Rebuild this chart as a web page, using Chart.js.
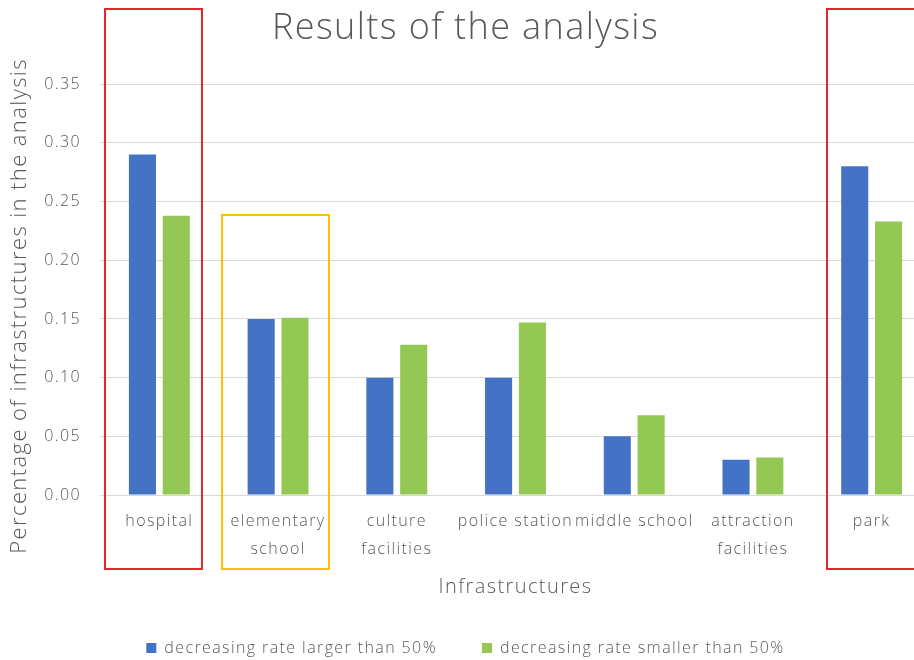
<!DOCTYPE html>
<html>
<head>
<meta charset="utf-8">
<script src="https://cdn.jsdelivr.net/npm/chart.js@4/dist/chart.umd.min.js"></script>
<style>
  html, body { margin: 0; padding: 0; background: #fff; overflow: hidden; }
  #wrap { width: 932px; height: 660px; position: relative; }
</style>
</head>
<body>
<div id="wrap"><canvas id="c" width="932" height="660"></canvas></div>
<script>
// Categories (multi-line labels as arrays)
const categories = [
  "hospital",
  ["elementary", "school"],
  ["culture", "facilities"],
  "police station",
  "middle school",
  ["attraction", "facilities"],
  "park"
];
const largerThan50 = [0.29, 0.15, 0.10, 0.10, 0.05, 0.03, 0.28];
const smallerThan50 = [0.238, 0.151, 0.128, 0.147, 0.068, 0.032, 0.233];
const seriesNames = ["decreasing rate larger than 50%", "decreasing rate smaller than 50%"];
const yAxisTitle = "Percentage of infrastructures in the analysis";

const FONT = "'Open Sans', 'Noto Sans', sans-serif";
const WEIGHT = 300;
const GREY = "#595959";
const LETTER_SPACING = "1.4px";

// Outline boxes highlighting selected categories (index, colour, value range)
const highlights = [
  { index: 0, color: "#E8262A", from: -0.46, to: 0.36, top: 0.414, bottom: -0.063 },
  { index: 1, color: "#FFC000", from: -0.47, to: 0.43, top: 0.2385, bottom: -0.063 },
  { index: 6, color: "#E8262A", from: -0.375, to: 0.7, top: 0.414, bottom: -0.063 }
];

// Wider tracking for every text item (applied before measuring and drawing)
const trackingPlugin = {
  id: "tracking",
  beforeInit(chart) { chart.ctx.letterSpacing = LETTER_SPACING; },
  beforeUpdate(chart) { chart.ctx.letterSpacing = LETTER_SPACING; },
  beforeDraw(chart) { chart.ctx.letterSpacing = LETTER_SPACING; }
};

// Rotated value-axis title, starting a little below the axis baseline
const yTitlePlugin = {
  id: "yTitle",
  afterDraw(chart) {
    const { ctx, scales: { y } } = chart;
    ctx.save();
    ctx.translate(y.left + 20, y.getPixelForValue(-0.05));
    ctx.rotate(-Math.PI / 2);
    ctx.font = `${WEIGHT} 22px ${FONT}`;
    ctx.fillStyle = GREY;
    ctx.textAlign = "left";
    ctx.textBaseline = "middle";
    ctx.fillText(yAxisTitle, 0, 0);
    ctx.restore();
  }
};

const highlightPlugin = {
  id: "highlightBoxes",
  afterDatasetsDraw(chart) {
    const { ctx, scales: { x, y } } = chart;
    const w = x.getPixelForValue(1) - x.getPixelForValue(0);
    ctx.save();
    ctx.lineWidth = 2;
    highlights.forEach(h => {
      const c = x.getPixelForValue(h.index);
      const l = c + h.from * w, r = c + h.to * w;
      const t = y.getPixelForValue(h.top), b = y.getPixelForValue(h.bottom);
      ctx.strokeStyle = h.color;
      ctx.strokeRect(Math.round(l), Math.round(t), Math.round(r - l), Math.round(b - t));
    });
    ctx.restore();
  }
};

new Chart(document.getElementById("c"), {
  type: "bar",
  data: {
    labels: categories,
    datasets: [
      { label: seriesNames[0], data: largerThan50, backgroundColor: "#4472C4" },
      { label: seriesNames[1], data: smallerThan50, backgroundColor: "#92C853" }
    ]
  },
  options: {
    responsive: false,
    animation: false,
    devicePixelRatio: 1,
    categoryPercentage: 0.57,
    barPercentage: 0.8,
    layout: { padding: { left: 0, right: 1, top: 0, bottom: -6 } },
    plugins: {
      title: {
        display: true,
        text: "Results of the analysis",
        color: GREY,
        font: { family: FONT, size: 36, weight: WEIGHT, lineHeight: 1.2 },
        padding: { top: 7, bottom: 34 }
      },
      legend: {
        position: "bottom",
        labels: {
          color: GREY,
          font: { family: FONT, size: 16, weight: WEIGHT },
          boxWidth: 10,
          boxHeight: 10,
          padding: 45
        }
      },
      tooltip: { enabled: false }
    },
    scales: {
      x: {
        grid: { display: false, drawTicks: false },
        border: { display: true, color: "#d9d9d9", width: 1 },
        ticks: {
          color: GREY,
          font: { family: FONT, size: 16, weight: WEIGHT, lineHeight: 1.75 },
          padding: 12,
          maxRotation: 0,
          autoSkip: false
        },
        title: {
          display: true,
          text: "Infrastructures",
          color: GREY,
          font: { family: FONT, size: 20, weight: WEIGHT, lineHeight: 1.2 },
          padding: { top: 0, bottom: -4 }
        },
        afterFit(scale) { scale.height = 100; }
      },
      y: {
        min: 0,
        max: 0.35,
        ticks: {
          stepSize: 0.05,
          color: GREY,
          font: { family: FONT, size: 16, weight: WEIGHT },
          padding: 19,
          callback: v => Number(v).toFixed(2)
        },
        grid: { color: "#d9d9d9", drawTicks: false },
        border: { display: false },
        title: { display: false },
        afterFit(scale) { scale.width = 100; }
      }
    }
  },
  plugins: [trackingPlugin, highlightPlugin, yTitlePlugin]
});
</script>
</body>
</html>
